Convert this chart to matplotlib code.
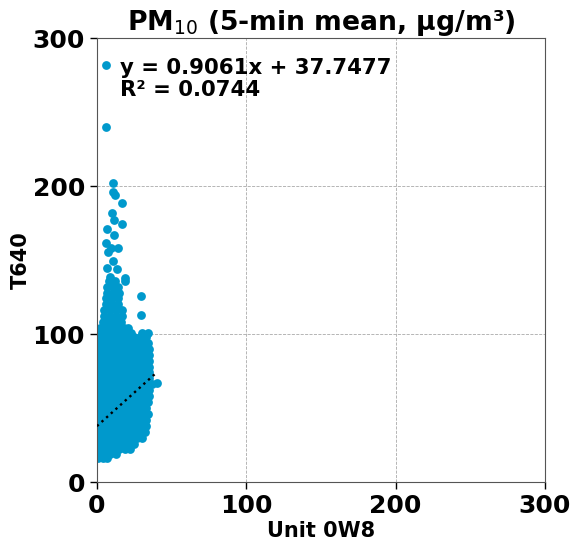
import numpy as np
import matplotlib
matplotlib.use("Agg")
import matplotlib.pyplot as plt

# Scatter of T640 vs Unit 0W8 PM10 readings

# dense core of the cloud: one row of x values per y level
core_y = [16, 19, 22, 26, 30, 34, 38, 42, 46, 50, 54, 58, 62, 66, 70, 74, 78,
          82, 86, 90, 94, 98, 101, 104, 108, 112, 116, 120, 124, 128, 132, 136]
core_x = [
    [1, 4, 7],
    [1, 5, 9, 13],
    [1, 3, 7, 11, 15, 19, 22],
    [1, 5, 9, 13, 17, 21, 25],
    [1, 3, 7, 11, 15, 19, 23, 27, 30],
    [1, 5, 9, 13, 17, 21, 25, 29, 32],
    [1, 3, 7, 11, 15, 19, 23, 27, 31, 33],
    [1, 5, 9, 13, 17, 21, 25, 29, 33],
    [1, 3, 7, 11, 15, 19, 23, 27, 31, 34],
    [1, 5, 9, 13, 17, 21, 25, 29, 33],
    [1, 3, 7, 11, 15, 19, 23, 27, 31, 34],
    [1, 5, 9, 13, 17, 21, 25, 29, 33, 35],
    [1, 3, 7, 11, 15, 19, 23, 27, 31, 35],
    [1, 5, 9, 13, 17, 21, 25, 29, 33, 37],
    [1, 3, 7, 11, 15, 19, 23, 27, 31, 35],
    [1, 5, 9, 13, 17, 21, 25, 29, 33, 35],
    [1, 3, 7, 11, 15, 19, 23, 27, 31, 35],
    [1, 5, 9, 13, 17, 21, 25, 29, 33, 35],
    [1, 3, 7, 11, 15, 19, 23, 27, 31, 35],
    [1, 5, 9, 13, 17, 21, 25, 29, 33, 35],
    [1, 3, 7, 11, 15, 19, 23, 27, 31, 34],
    [1, 5, 9, 13, 17, 21, 25, 29, 33],
    [1, 3, 7, 11, 15, 19, 23, 30, 34],
    [2, 6, 10, 14, 18, 21],
    [4, 8, 12, 16],
    [5, 9, 13, 17],
    [5, 9, 13, 17],
    [6, 10, 14],
    [6, 10, 14],
    [7, 11, 15],
    [7, 11, 14],
    [8, 12],
]

# sparse points above the core
outlier_x = [6, 6, 10.5, 10.5, 12, 16.7, 10, 11.4, 16.7, 6.9, 11.4, 6, 9.2, 14.3,
             7.4, 10.5, 6.5, 13.2, 8.7, 18.5, 9.8, 29.5, 29.5, 18.8, 40]
outlier_y = [282, 240, 202, 196, 194, 188.5, 182, 177, 174, 171, 167, 161.7, 158,
             158, 155.6, 149, 144.6, 144, 138.7, 138, 134, 126, 113, 136, 67]

slope = 0.9061
intercept = 37.7477
r2 = 0.0744

x = np.concatenate([np.array(xs, dtype=float) for xs in core_x] + [outlier_x])
y = np.concatenate([np.full(len(xs), yy, dtype=float) for xs, yy in zip(core_x, core_y)]
                   + [outlier_y])

fig = plt.figure(figsize=(5.7, 5.4), dpi=100)
ax = fig.add_axes([0.170, 0.1074, 0.786, 0.8222])

ax.scatter(x, y, s=40, color="#0099cc", linewidths=0, zorder=2)

# trend line over the data range
fx = np.array([0, 40])
ax.plot(fx, slope * fx + intercept, color="black", linestyle=":", lw=1.7, zorder=3)

ax.text(0.051, 0.955, f"y = {slope:.4f}x + {intercept:.4f}\nR² = {r2:.4f}",
        transform=ax.transAxes, ha="left", va="top", fontsize=15.3,
        fontweight="bold", linespacing=1.1)

ax.set_xlim(0, 300)
ax.set_ylim(0, 300)
ax.set_xticks([0, 100, 200, 300])
ax.set_yticks([0, 100, 200, 300])
ax.tick_params(labelsize=18, width=1, length=5)
for lab in ax.get_xticklabels() + ax.get_yticklabels():
    lab.set_fontweight("bold")
ax.grid(True, color="#aaaaaa", linestyle="--", lw=0.6, zorder=0)
ax.set_axisbelow(True)
for sp in ax.spines.values():
    sp.set_color("#555555")

ax.set_title("PM$_{10}$ (5-min mean, µg/m³)", fontsize=19.2, fontweight="bold", pad=4)
ax.set_xlabel("Unit 0W8", fontsize=15, fontweight="bold", labelpad=2)
ax.set_ylabel("T640", fontsize=15, fontweight="bold", labelpad=1)

fig.savefig("out.png", dpi=100)
